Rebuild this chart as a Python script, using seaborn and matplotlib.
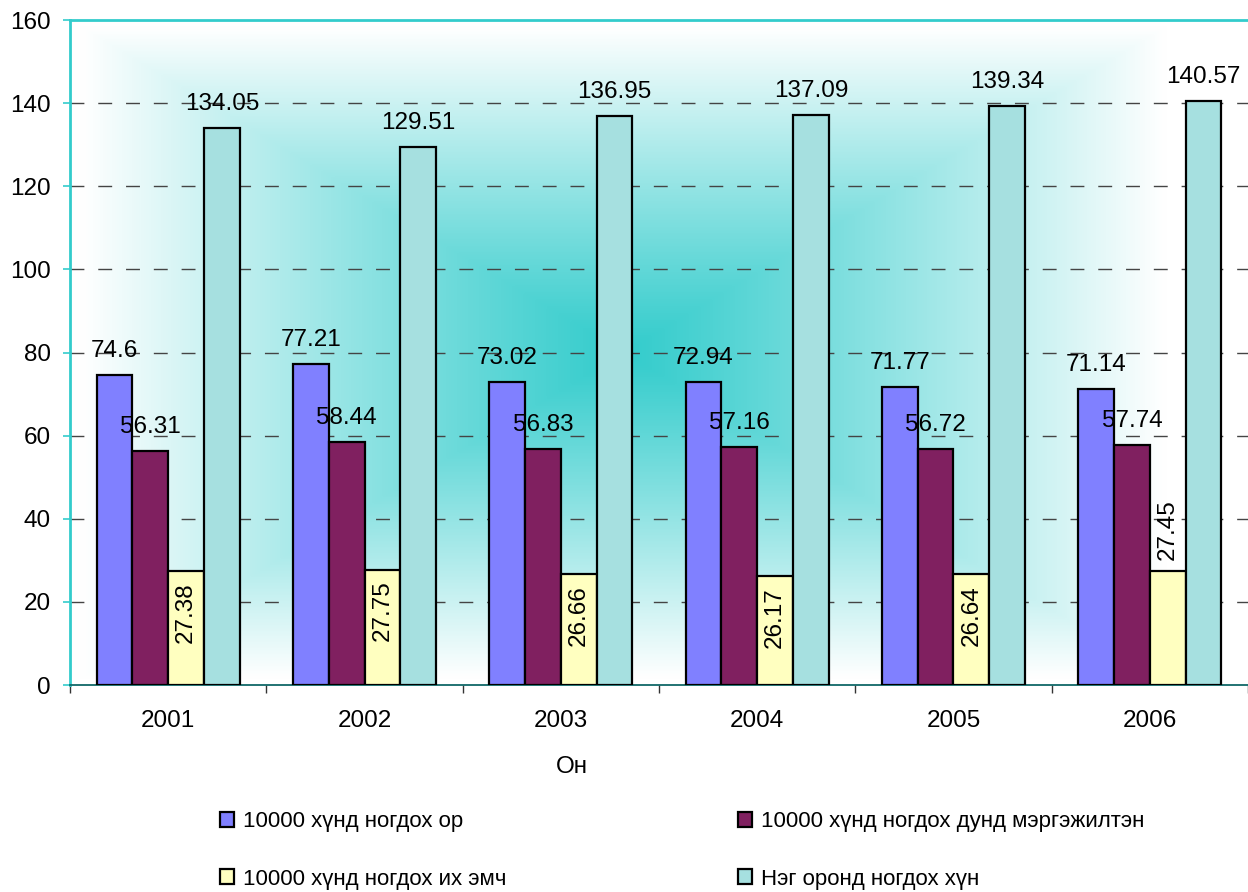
import numpy as np
import pandas as pd
import matplotlib
matplotlib.use("Agg")
import matplotlib.pyplot as plt
import seaborn as sns
from matplotlib.colors import to_rgb

years = ["2001", "2002", "2003", "2004", "2005", "2006"]
series = [
    "10000 хүнд ногдох ор",
    "10000 хүнд ногдох дунд мэргэжилтэн",
    "10000 хүнд ногдох их эмч",
    "Нэг оронд ногдох хүн",
]
beds = [74.6, 77.21, 73.02, 72.94, 71.77, 71.14]
nurses = [56.31, 58.44, 56.83, 57.16, 56.72, 57.74]
doctors = [27.38, 27.75, 26.66, 26.17, 26.64, 27.45]
people_per_bed = [134.05, 129.51, 136.95, 137.09, 139.34, 140.57]
colors = ["#8080FF", "#802060", "#FFFFC0", "#A6E0E0"]

values = [beds, nurses, doctors, people_per_bed]
df = pd.DataFrame(
    [(y, s, v[i]) for s, v in zip(series, values) for i, y in enumerate(years)],
    columns=["year", "series", "value"],
)

sns.set_style("white")
plt.rcParams["font.family"] = ["Liberation Sans", "DejaVu Sans"]
plt.rcParams["text.color"] = "black"
plt.rcParams["xtick.labelcolor"] = "black"
plt.rcParams["ytick.labelcolor"] = "black"
plt.rcParams["axes.labelcolor"] = "black"

FS = 17.5

fig = plt.figure(figsize=(12.48, 8.92), dpi=100)
ax = fig.add_axes([70 / 1248, 207 / 892, 1178 / 1248, 665 / 892])

# rectangular "from center" gradient background
gx, gy = np.meshgrid(np.linspace(0, 1, 400), np.linspace(0, 1, 300))
t = np.maximum(np.abs(gx - 0.47) / 0.46, np.abs(gy - 0.5) / 0.49)
t = np.clip(t, 0, 1) ** 1.1
center = np.array(to_rgb("#33CCCC"))
img = center * (1 - t[..., None]) + np.ones(3) * t[..., None]
ax.imshow(img, extent=[0, 1, 0, 1], transform=ax.transAxes, origin="lower",
          aspect="auto", zorder=0, interpolation="bilinear")

sns.barplot(data=df, x="year", y="value", hue="series", hue_order=series,
            palette=colors, saturation=1, width=0.73, gap=0, edgecolor="black",
            linewidth=1.6, errorbar=None, ax=ax, zorder=3)

ax.set_ylim(0, 160)
ax.set_xlim(-0.5, 5.5)
ax.set_yticks(range(0, 161, 20))
ax.grid(False)
for yv in range(20, 160, 20):
    ax.axhline(yv, color="#444444", lw=1.0, ls=(0, (10, 10)), zorder=1)

# data labels
for k, cont in enumerate(ax.containers):
    for i, bar in enumerate(cont):
        v = values[k][i]
        xc = bar.get_x() + bar.get_width() / 2
        if k == 2:
            off = 41 if i == len(years) - 1 else -41
            ax.annotate(f"{v:g}", (xc, v), xytext=(0, off), textcoords="offset pixels",
                        ha="center", va="center", rotation=90, fontsize=FS, zorder=5)
        else:
            ax.annotate(f"{v:g}", (xc, v), xytext=(0, 24), textcoords="offset pixels",
                        ha="center", va="center", fontsize=FS, zorder=5)

for side in ["left", "top"]:
    ax.spines[side].set_color("#33CCCC")
    ax.spines[side].set_linewidth(2)
ax.spines["bottom"].set_color("#106868")
ax.spines["bottom"].set_linewidth(1.3)
ax.spines["right"].set_visible(False)

ax.tick_params(axis="y", colors="#33CCCC", length=5, width=1.2, pad=9,
               labelcolor="black", labelsize=FS, left=True)
ax.tick_params(axis="x", length=0, pad=18, labelsize=FS, labelcolor="black")
ax.set_xticks(np.arange(-0.5, 6, 1), minor=True)
ax.tick_params(axis="x", which="minor", length=6, width=1, color="#333333", bottom=True)

ax.set_ylabel("")
ax.set_xlabel("Он", fontsize=FS, color="black")
ax.xaxis.set_label_coords(0.426, -0.107)

handles, labels = ax.get_legend_handles_labels()
ax.get_legend().remove()
order = [0, 2, 1, 3]
leg = fig.legend([handles[i] for i in order], [labels[i] for i in order],
                 ncol=2, loc="upper left", bbox_to_anchor=(200 / 1248, 1 - 791 / 892),
                 frameon=False, fontsize=16, handlelength=0.65, handleheight=0.65,
                 handletextpad=0.4, labelspacing=1.65, columnspacing=10.4)

fig.savefig("out.png", dpi=100)
